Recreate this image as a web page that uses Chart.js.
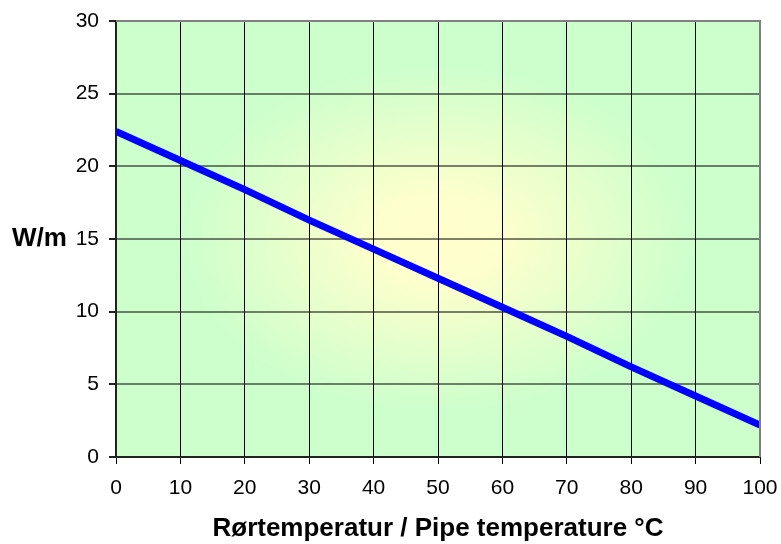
<!DOCTYPE html>
<html>
<head>
<meta charset="utf-8">
<script src="https://cdn.jsdelivr.net/npm/chart.js@4/dist/chart.umd.min.js"></script>
<style>
  html, body { margin: 0; padding: 0; background: #fff; }
</style>
</head>
<body>
<canvas id="heatChart" width="781" height="544"></canvas>
<script>
// data
const temperatures = [0, 10, 20, 30, 40, 50, 60, 70, 80, 90, 100];
const wattPerMetre = [22.4, 20.4, 18.4, 16.3, 14.3, 12.3, 10.3, 8.3, 6.2, 4.2, 2.2];
const yTicks = [0, 5, 10, 15, 20, 25, 30];
const xTicks = [0, 10, 20, 30, 40, 50, 60, 70, 80, 90, 100];
const yLabel = 'W/m';
const xLabel = 'Rørtemperatur / Pipe temperature °C';

const FONT = "'Liberation Sans', Arial, sans-serif";

// background (yellow centre fading to green) + outer border + axis labels
const decorPlugin = {
    id: 'decor',
    beforeDraw(chart) {
        const { ctx, chartArea: a } = chart;
        const cx = (a.left + a.right) / 2, cy = (a.top + a.bottom) / 2;
        const rx = (a.right - a.left) / 2, ry = (a.bottom - a.top) / 2;
        ctx.save();
        ctx.beginPath();
        ctx.rect(a.left, a.top, a.right - a.left, a.bottom - a.top);
        ctx.clip();
        ctx.translate(cx, cy);
        ctx.scale(1, ry / rx);
        const g = ctx.createRadialGradient(0, 0, 0, 0, 0, rx);
        g.addColorStop(0, '#ffffcc');
        g.addColorStop(0.2, '#fdffcc');
        g.addColorStop(0.8, '#ccffcc');
        g.addColorStop(1, '#ccffcc');
        ctx.fillStyle = g;
        ctx.fillRect(-rx, -rx, rx * 2, rx * 2);
        ctx.restore();
    },
    afterDraw(chart) {
        const { ctx, chartArea: a } = chart;
        ctx.save();
        // top / right frame
        ctx.strokeStyle = '#808080';
        ctx.lineWidth = 2;
        ctx.beginPath();
        ctx.moveTo(a.left, a.top);
        ctx.lineTo(a.right, a.top);
        ctx.lineTo(a.right, a.bottom);
        ctx.stroke();
        // axis titles
        ctx.fillStyle = '#000';
        ctx.textBaseline = 'middle';
        ctx.font = 'bold 26px ' + FONT;
        ctx.textAlign = 'left';
        ctx.fillText(yLabel, 12, 239);
        ctx.textAlign = 'center';
        ctx.fillText(xLabel, (a.left + a.right) / 2, 529);
        ctx.restore();
    }
};

new Chart(document.getElementById('heatChart'), {
    type: 'line',
    data: {
        labels: temperatures,
        datasets: [{
            data: temperatures.map((t, i) => ({ x: t, y: wattPerMetre[i] })),
            borderColor: '#0000ff',
            borderWidth: 7,
            pointRadius: 0,
            fill: false,
            tension: 0
        }]
    },
    options: {
        responsive: false,
        devicePixelRatio: 1,
        animation: false,
        layout: { padding: { top: 21, right: 21, left: 0, bottom: 0 } },
        plugins: {
            legend: { display: false },
            tooltip: { enabled: false }
        },
        scales: {
            x: {
                type: 'linear',
                min: 0,
                max: 100,
                afterFit(scale) {
                    scale.height = 87;
                    scale.paddingLeft = 0;
                    scale.paddingRight = 0;
                },
                afterBuildTicks(scale) { scale.ticks = xTicks.map(v => ({ value: v })); },
                grid: { color: '#000', lineWidth: 1, tickLength: 7, tickColor: '#000' },
                border: { display: true, color: '#222', width: 2 },
                ticks: {
                    font: { family: FONT, size: 21 },
                    color: '#000',
                    padding: 12,
                    maxRotation: 0
                }
            },
            y: {
                min: 0,
                max: 30,
                afterFit(scale) {
                    scale.width = 116;
                    scale.paddingTop = 0;
                    scale.paddingBottom = 0;
                },
                afterBuildTicks(scale) { scale.ticks = yTicks.map(v => ({ value: v })); },
                grid: { color: 'rgba(0,0,0,0.5)', lineWidth: 2, tickLength: 7, tickColor: '#222' },
                border: { display: true, color: '#222', width: 2 },
                ticks: {
                    font: { family: FONT, size: 21 },
                    color: '#000',
                    padding: 10
                }
            }
        }
    },
    plugins: [decorPlugin]
});
</script>
</body>
</html>
